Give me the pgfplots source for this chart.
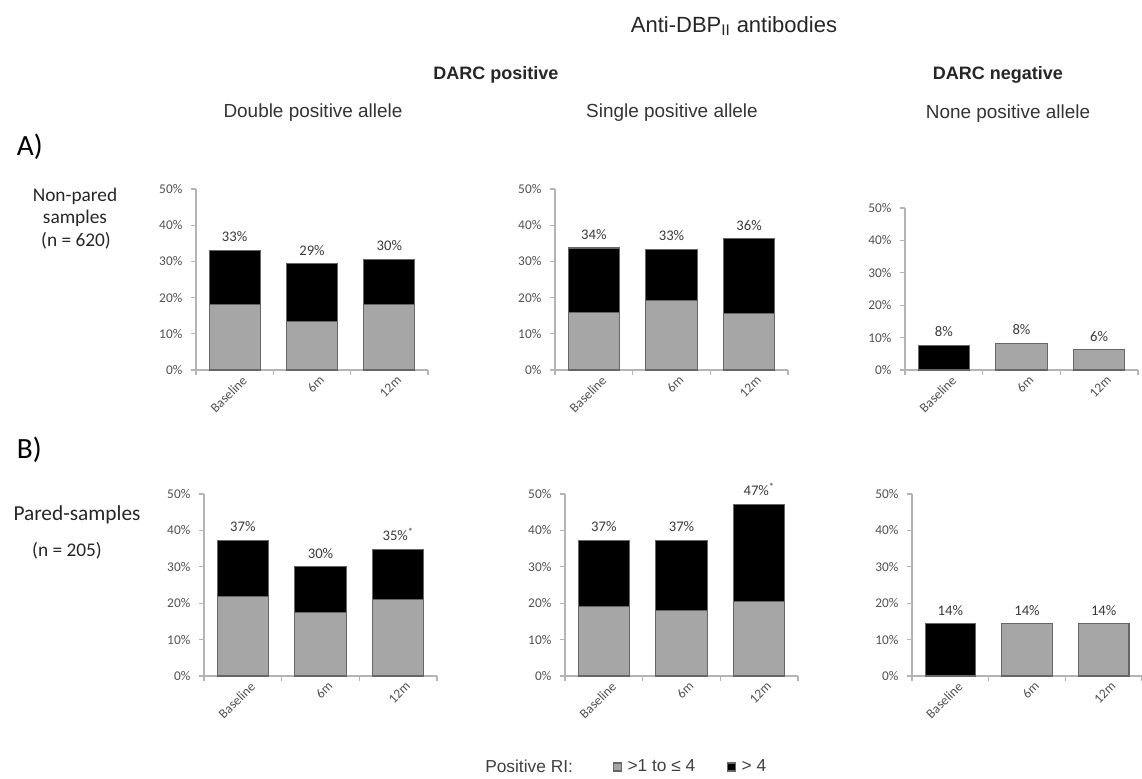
\documentclass[border=0pt]{standalone}
\usepackage{pgfplots}
\pgfplotsset{compat=1.18}
\usepackage{fontspec}
\setmainfont{Liberation Sans}
\newfontfamily\calfont{Carlito}
\definecolor{barg}{HTML}{A6A6A6}
\definecolor{axg}{HTML}{B4B4B4}
\definecolor{txg}{HTML}{505050}
\definecolor{lbl}{HTML}{3A3A3A}
\pgfplotsset{
  base/.style={
    scale only axis, anchor=south west,
    ybar, bar shift=0pt,
    xmin=-0.5, xmax=2.5, ymin=0, ymax=50,
    axis x line*=bottom, axis y line*=left,
    axis line style={draw=axg, line width=0.8pt, -},
    xtick={0,1,2}, xticklabels={Baseline,6m,12m},
    major x tick style={draw=none},
    minor xtick={-0.5,0.5,1.5,2.5},
    minor x tick style={draw=axg, line width=0.8pt},
    minor tick length=3.75pt, major tick length=3.75pt,
    ytick={0,10,20,30,40,50},
    yticklabels={0\%,10\%,20\%,30\%,40\%,50\%},
    y tick style={draw=axg, line width=0.8pt},
    tick align=outside, tick pos=left,
    yticklabel style={font=\calfont\fontsize{10}{12}\selectfont, text=txg, xshift=-3pt},
    xticklabel style={font=\calfont\fontsize{10}{12}\selectfont, text=txg, rotate=45, anchor=north east, xshift=7pt},
    bar width=0.66,
    nodes near coords style={font=\calfont\fontsize{11}{13}\selectfont, text=lbl, yshift=2.5pt},
    clip=false,
  },
  gfill/.style={fill=barg, draw=black!60, line width=0.8pt},
  bfill/.style={fill=black, draw=black!60, line width=0.8pt},
  sqlegend/.style={legend image code/.code={\draw[##1] (0pt,-3pt) rectangle (6pt,3pt);}},
  lab/.style={nodes near coords, point meta=explicit symbolic},
}
\begin{document}
\begin{tikzpicture}
\path[use as bounding box] (0,0) rectangle (856.5pt,583.5pt);
% titles
\node[font=\fontsize{16.5}{19}\selectfont, text=black!85] at (550.5pt,564pt) {Anti-DBP\textsubscript{II} antibodies};
\node[font=\bfseries\fontsize{13.5}{16}\selectfont, text=black!85] at (372pt,527.25pt) {DARC positive};
\node[font=\bfseries\fontsize{13.5}{16}\selectfont, text=black!85] at (748.5pt,527.25pt) {DARC negative};
\node[font=\fontsize{14.2}{16}\selectfont, text=black!80] at (234.75pt,498.75pt) {Double positive allele};
\node[font=\fontsize{14.2}{16}\selectfont, text=black!80] at (504pt,498.75pt) {Single positive allele};
\node[font=\fontsize{14.2}{16}\selectfont, text=black!80] at (756pt,498pt) {None positive allele};
\node[font=\calfont\fontsize{22}{24}\selectfont, anchor=west, inner sep=0pt] at (12.5pt,473.25pt) {A)};
\node[font=\calfont\fontsize{22}{24}\selectfont, anchor=west, inner sep=0pt] at (12.5pt,246pt) {B)};
\node[font=\calfont\fontsize{14.5}{17}\selectfont, text=black!85] at (56.25pt,436.5pt) {Non-pared};
\node[font=\calfont\fontsize{14.5}{17}\selectfont, text=black!85] at (56.25pt,420pt) {samples};
\node[font=\calfont\fontsize{14.5}{17}\selectfont, text=black!85] at (57pt,402.75pt) {(n = 620)};
\node[font=\calfont\fontsize{16}{18}\selectfont, text=black!85] at (57.75pt,197.25pt) {Pared-samples};
\node[font=\calfont\fontsize{14.5}{17}\selectfont, text=black!85] at (50.25pt,170.25pt) {(n = 205)};
\node[font=\fontsize{13}{15}\selectfont, text=black!75, anchor=base west, inner sep=0pt] at (363.75pt,4pt) {Positive RI:};
% A row (black bar = total, grey bar = >1 to <=4 part)
\begin{axis}[base, at={(147pt,306pt)}, width=174pt, height=135.75pt]
\addplot[bfill, lab] coordinates {(0,33.1) [33\%] (1,29.3) [29\%] (2,30.6) [30\%]};
\addplot[gfill] coordinates {(0,18.2) (1,13.5) (2,18.2)};
\end{axis}
\begin{axis}[base, at={(416.25pt,306pt)}, width=174.75pt, height=135.75pt]
\addplot[bfill, lab] coordinates {(0,33.7) [34\%] (1,33.4) [33\%] (2,36.2) [36\%]};
\addplot[gfill] coordinates {(0,15.8) (1,19.1) (2,15.7)};
\end{axis}
\begin{axis}[base, at={(678.75pt,306pt)}, width=174.75pt, height=121.5pt]
\addplot[bfill, lab] coordinates {(0,7.7) [8\%]};
\addplot[gfill, lab] coordinates {(1,8.3) [8\%] (2,6.2) [6\%]};
\end{axis}
% B row
\begin{axis}[base, at={(153pt,76.5pt)}, width=174.75pt, height=136.5pt]
\addplot[bfill, lab] coordinates {(0,37.3) [37\%] (1,30.1) [30\%] (2,34.8) [35\%\textsuperscript{*}]};
\addplot[gfill] coordinates {(0,21.8) (1,17.4) (2,21.0)};
\end{axis}
\begin{axis}[base, at={(423.75pt,76.5pt)}, width=174.75pt, height=136.5pt,
  legend columns=2,
  legend style={at={(0.541,-0.5)}, anchor=center, draw=none, fill=none,
    font=\fontsize{13}{15}\selectfont, text=black!75,
    /tikz/every odd column/.append style={column sep=2pt},
    /tikz/every even column/.append style={column sep=22pt}},
  ]
\addlegendimage{gfill, sqlegend}
\addlegendentry{>1 to ≤ 4}
\addlegendimage{bfill, sqlegend}
\addlegendentry{> 4}
\addplot[bfill, lab, forget plot] coordinates {(0,37.3) [37\%] (1,37.3) [37\%] (2,47.2) [47\%\textsuperscript{*}]};
\addplot[gfill, forget plot] coordinates {(0,19.1) (1,18.0) (2,20.5)};
\end{axis}
\begin{axis}[base, at={(684pt,76.5pt)}, width=172.5pt, height=136.5pt]
\addplot[bfill, lab] coordinates {(0,14.3) [14\%]};
\addplot[gfill, lab] coordinates {(1,14.3) [14\%] (2,14.3) [14\%]};
\end{axis}
\end{tikzpicture}
\end{document}
